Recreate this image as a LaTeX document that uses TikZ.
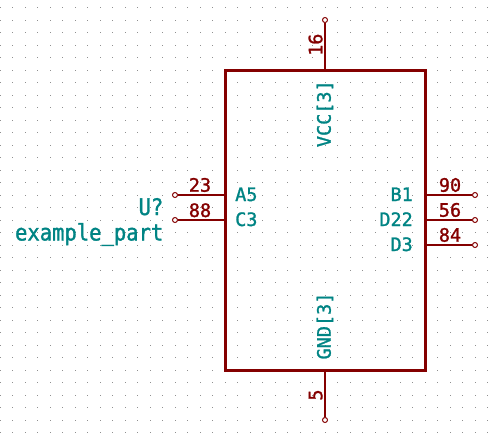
\documentclass[tikz,border=0pt]{standalone}
\usepackage{fontspec}
\newfontfamily\kifont[FakeBold=1.3]{DejaVu Sans Mono}
\newfontfamily\kibig[FakeBold=1.3,FakeStretch=0.9]{DejaVu Sans Mono}
\definecolor{kired}{HTML}{840000}
\definecolor{kiteal}{HTML}{008484}
\definecolor{kidot}{HTML}{909090}
\tikzset{
  body/.style={draw=kired,line width=3pt,minimum width=200pt,minimum height=300pt,inner sep=0pt,line join=miter},
  pinline/.style={draw=kired,line width=1.8pt},
  pinend/.style={circle,draw=kired,fill=white,line width=1pt,minimum size=5pt,inner sep=0pt},
  pinnum/.style={text=kired,inner sep=0pt,anchor=base,font=\kifont\fontsize{18.5}{18.5}\selectfont},
  pinname/.style={text=kiteal,inner sep=0pt,font=\kifont\fontsize{18.5}{18.5}\selectfont},
  reflabel/.style={text=kiteal,inner sep=0pt,font=\kibig\fontsize{22.8}{22.8}\selectfont},
}
\begin{document}
\begin{tikzpicture}[x=1pt,y=-1pt]
\useasboundingbox (0,0) rectangle (493,439);
\fill[white] (0,0) rectangle (493,439);
\foreach \i in {0,...,39}{
  \foreach \j in {0,...,34}{
    \fill[kidot] ({\i*12.5-0.45},{7.5+\j*12.5-0.45}) rectangle ++(0.9,0.9);
  }
}
\node[body] (box) at (325.3,220.2) {};
\node[pinend] (p16) at (325,20) {};
\node[pinend] (p5) at (325,420) {};
\node[pinend] (p23) at (175,195) {};
\node[pinend] (p88) at (175,220) {};
\node[pinend] (p90) at (475,195) {};
\node[pinend] (p56) at (475,220) {};
\node[pinend] (p84) at (475,245) {};
\draw[pinline] (p16) -- (p16 |- box.north);
\draw[pinline] (p5) -- (p5 |- box.south);
\draw[pinline] (p23) -- (p23 -| box.west);
\draw[pinline] (p88) -- (p88 -| box.west);
\draw[pinline] (p90) -- (p90 -| box.east);
\draw[pinline] (p56) -- (p56 -| box.east);
\draw[pinline] (p84) -- (p84 -| box.east);
\node[pinnum] (n23) at (200,191.7) {23};
\node[pinnum] (n88) at (200,217) {88};
\node[pinnum] (n90) at (450,191.7) {90};
\node[pinnum] (n56) at (450,216.7) {56};
\node[pinnum] (n84) at (450,241.7) {84};
\node[pinnum,rotate=90] (n16) at (322.3,44.7) {16};
\node[pinnum,rotate=90] (n5) at (322.3,395) {5};
\node[pinname,anchor=base west] (a5) at (235,201) {A5};
\node[pinname,anchor=base west] (c3) at (235,226) {C3};
\node[pinname,anchor=base east] (b1) at (413,201) {B1};
\node[pinname,anchor=base east] (d22) at (413,226) {D22};
\node[pinname,anchor=base east] (d3) at (413,251) {D3};
\node[pinname,rotate=90,anchor=base] (vcc) at (330.7,113.7) {VCC[3]};
\node[pinname,rotate=90,anchor=base] (gnd) at (330.7,326) {GND[3]};
\node[reflabel,anchor=base east] (ref) at (163.5,215) {U?};
\node[reflabel,anchor=base east] (val) at (163.5,240.5) {example\_part};
\end{tikzpicture}
\end{document}
